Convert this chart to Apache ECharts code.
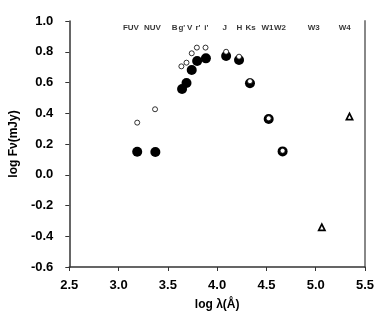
<!DOCTYPE html>
<html><head><meta charset="utf-8">
<script src="https://cdn.jsdelivr.net/npm/echarts@6/dist/echarts.min.js"></script>
<style>html,body{margin:0;padding:0;background:#fff}#c{width:390px;height:321px}</style>
</head><body><div id="c"></div>
<script>
var obsX = [3.189, 3.373, 3.644, 3.689, 3.742, 3.797, 3.886, 4.091, 4.222, 4.333, 4.523, 4.664];
var obsY = [0.150, 0.148, 0.558, 0.597, 0.681, 0.740, 0.757, 0.772, 0.746, 0.595, 0.363, 0.152];
var modX = [3.189, 3.370, 3.637, 3.689, 3.742, 3.794, 3.882, 4.091, 4.222, 4.333, 4.523, 4.664];
var modY = [0.339, 0.426, 0.705, 0.729, 0.790, 0.827, 0.827, 0.800, 0.768, 0.608, 0.367, 0.156];
var wiseX = [5.062, 5.343];
var wiseY = [-0.338, 0.382];
var bandNames = ['FUV', 'NUV', 'B', "g'", 'V', "r'", "i'", 'J', 'H', 'Ks', 'W1', 'W2', 'W3', 'W4'];
var bandX = [3.125, 3.343, 3.569, 3.642, 3.722, 3.805, 3.89, 4.078, 4.225, 4.34, 4.51, 4.637, 4.98, 5.294];
var bandY = 0.955;
var xTicks = ['2.5', '3.0', '3.5', '4.0', '4.5', '5.0', '5.5'];
var yTicks = ['-0.6', '-0.4', '-0.2', '0.0', '0.2', '0.4', '0.6', '0.8', '1.0'];

function zip(a, b) { return a.map(function (v, i) { return [v, b[i]]; }); }
var font = 'Liberation Sans, Arial, sans-serif';
var chart = echarts.init(document.getElementById('c'));
chart.setOption({
  animation: false,
  grid: { left: 59, right: 25, top: 21, bottom: 54, containLabel: false },
  xAxis: {
    type: 'value', min: 2.5, max: 5.5, interval: 0.5,
    name: 'log λ(Å)', nameLocation: 'middle', nameGap: 32,
    nameTextStyle: { fontFamily: font, fontSize: 12, fontWeight: 'bold', color: '#000' },
    axisLine: { show: true, onZero: false, lineStyle: { color: '#333', width: 1.5 } },
    axisTick: { show: true, length: 4, lineStyle: { color: '#333' } },
    axisLabel: { fontFamily: font, fontSize: 13, fontWeight: 'bold', color: '#000', margin: 12,
      formatter: function (v) { return xTicks[Math.round((v - 2.5) / 0.5)]; } },
    splitLine: { show: false }
  },
  yAxis: [{
    type: 'value', min: -0.6, max: 1.0, interval: 0.2,
    name: 'log Fν(mJy)', nameLocation: 'middle', nameGap: 40,
    nameTextStyle: { fontFamily: font, fontSize: 12, fontWeight: 'bold', color: '#000' },
    axisLine: { show: true, onZero: false, lineStyle: { color: '#333', width: 1.5 } },
    axisTick: { show: true, length: 4, lineStyle: { color: '#333' } },
    axisLabel: { fontFamily: font, fontSize: 13, fontWeight: 'bold', color: '#000', margin: 16,
      formatter: function (v) { return yTicks[Math.round((v + 0.6) / 0.2)]; } },
    splitLine: { show: false }
  }, {
    type: 'value', min: -0.6, max: 1.0, interval: 0.2, position: 'right',
    axisLine: { show: true, onZero: false, lineStyle: { color: '#888', width: 2 } },
    axisTick: { show: false }, axisLabel: { show: false }, splitLine: { show: false }
  }],
  series: [
    { type: 'scatter', data: zip(obsX, obsY), symbol: 'circle', symbolSize: 10,
      itemStyle: { color: '#000', opacity: 1 }, z: 2 },
    { type: 'scatter', data: zip(modX, modY), symbol: 'circle', symbolSize: 5,
      itemStyle: { color: '#fff', borderColor: '#000', borderWidth: 0.8, opacity: 1 }, z: 3 },
    { type: 'scatter', data: zip(wiseX, wiseY), symbol: 'triangle', symbolSize: 9,
      itemStyle: { color: '#000', opacity: 1 }, z: 2 },
    { type: 'scatter', data: zip(wiseX, wiseY), symbol: 'triangle', symbolSize: 3.5, symbolOffset: [0, 1],
      itemStyle: { color: '#fff', opacity: 1 }, z: 3 },
    { type: 'scatter', data: bandX.map(function (x, i) { return { value: [x, bandY], name: bandNames[i] }; }),
      symbolSize: 0, silent: true,
      label: { show: true, position: 'inside', formatter: '{b}', fontFamily: font, fontSize: 8,
        fontWeight: 'bold', color: '#000' }, z: 4 }
  ]
});
</script></body></html>
